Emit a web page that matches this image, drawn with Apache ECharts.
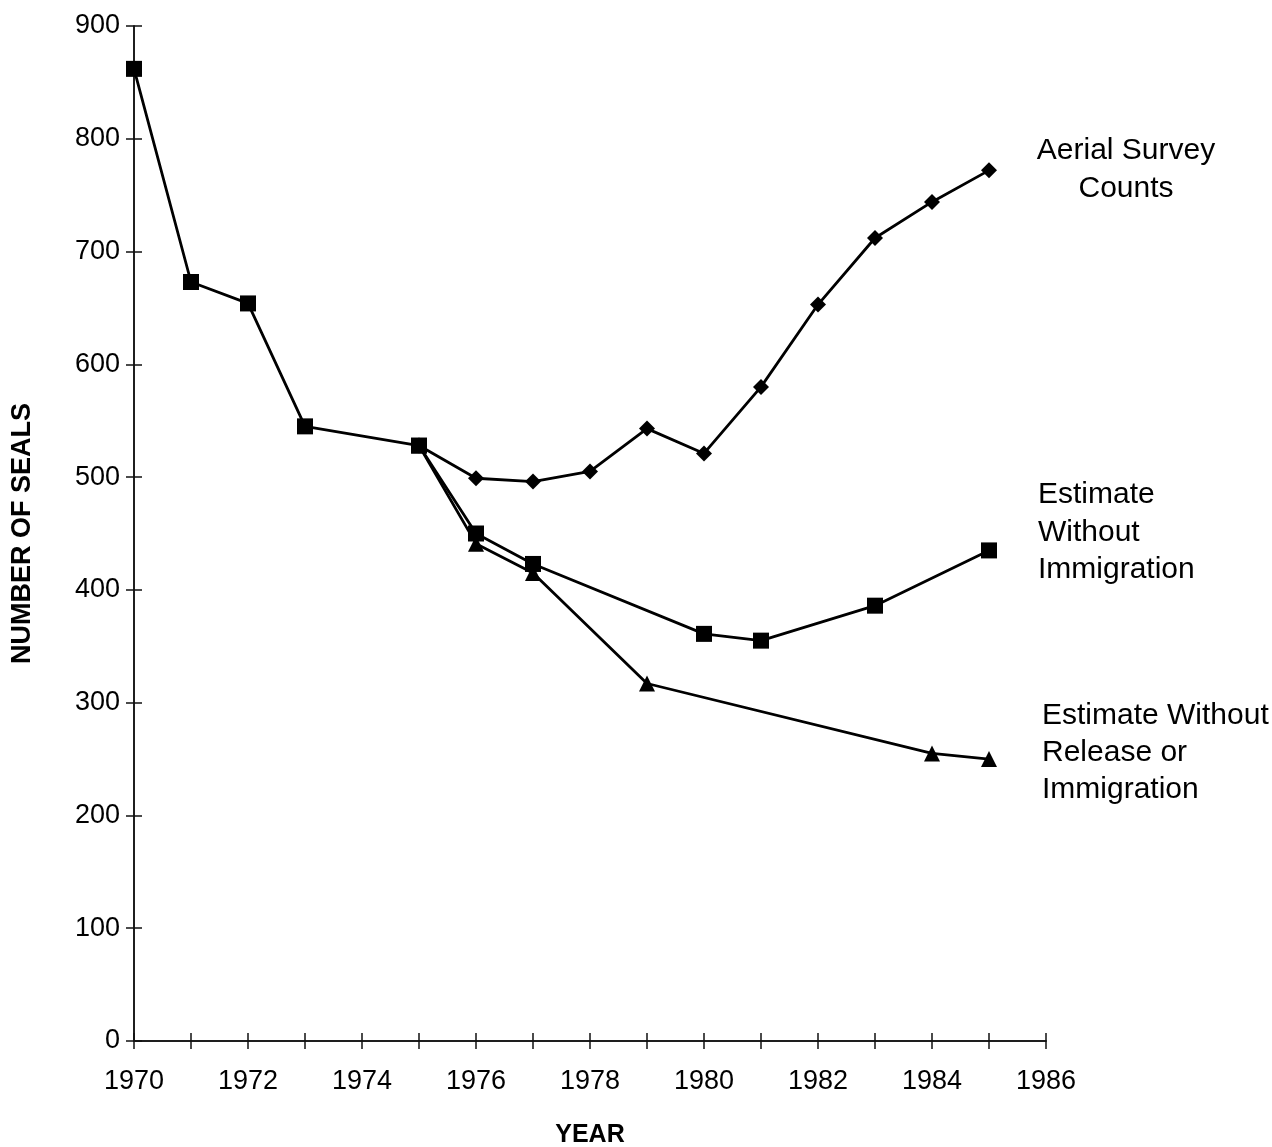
<!DOCTYPE html>
<html>
<head>
<meta charset="utf-8">
<script src="https://cdn.jsdelivr.net/npm/echarts@6/dist/echarts.min.js"></script>
<style>
html,body{margin:0;padding:0;background:#fff;}
#chart{width:1272px;height:1147px;}
</style>
</head>
<body>
<div id="chart"></div>
<script>
// Estimate Without Immigration (squares) – includes shared 1970–1975 values
const noImmYears = [1970, 1971, 1972, 1973, 1975, 1976, 1977, 1980, 1981, 1983, 1985];
const noImmValues = [862, 673, 654, 545, 528, 450, 423, 361, 355, 386, 435];

// Aerial Survey Counts (diamonds)
const aerialYears = [1975, 1976, 1977, 1978, 1979, 1980, 1981, 1982, 1983, 1984, 1985];
const aerialValues = [528, 499, 496, 505, 543, 521, 580, 653, 712, 744, 772];

// Estimate Without Release or Immigration (triangles)
const noRelYears = [1975, 1976, 1977, 1979, 1984, 1985];
const noRelValues = [528, 441, 415, 317, 255, 250];

const yTicks = [0, 100, 200, 300, 400, 500, 600, 700, 800, 900];
const xLabelYears = [1970, 1972, 1974, 1976, 1978, 1980, 1982, 1984, 1986];

const annotations = [
  'Aerial Survey\nCounts',
  'Estimate\nWithout\nImmigration',
  'Estimate Without\nRelease or\nImmigration'
];

const pairs = (xs, ys) => xs.map((x, i) => [x, ys[i]]);
const FONT = '"Liberation Sans", Arial, sans-serif';

const chart = echarts.init(document.getElementById('chart'));

const tickStyle = { color: '#111', width: 1.5 };
const baseX = {
  type: 'value', min: 1970, max: 1986, interval: 1, position: 'bottom',
  axisLine: { show: true, onZero: false, lineStyle: { color: '#111', width: 1.5 } },
  splitLine: { show: false }
};
const baseY = {
  type: 'value', min: 0, max: 900, interval: 100, position: 'left',
  axisLine: { show: true, onZero: false, lineStyle: { color: '#111', width: 1.5 } },
  splitLine: { show: false }
};

chart.setOption({
  backgroundColor: '#fff',
  animation: false,
  grid: { left: 134, right: 226, top: 26, bottom: 106, containLabel: false, outerBoundsMode: 'none' },
  xAxis: [
    Object.assign({}, baseX, {
      axisTick: { show: true, inside: false, length: 8, lineStyle: tickStyle },
      axisLabel: {
        margin: 27, fontSize: 27, color: '#000', fontFamily: FONT,
        formatter: v => (xLabelYears.indexOf(Math.round(v)) >= 0 ? String(Math.round(v)) : '')
      },
      name: 'YEAR', nameLocation: 'middle', nameGap: 82,
      nameTextStyle: { fontSize: 25, fontWeight: 'bold', color: '#000', fontFamily: FONT }
    }),
    Object.assign({}, baseX, {
      axisTick: { show: true, inside: true, length: 8, lineStyle: tickStyle },
      axisLabel: { show: false }
    })
  ],
  yAxis: [
    Object.assign({}, baseY, {
      axisTick: { show: true, inside: false, length: 8, lineStyle: tickStyle },
      axisLabel: { margin: 14, fontSize: 27, color: '#000', fontFamily: FONT,
        formatter: v => (yTicks.indexOf(v) >= 0 ? String(v) : '') },
      name: 'NUMBER OF SEALS', nameLocation: 'middle', nameGap: 98, nameRotate: 90,
      nameTextStyle: { fontSize: 27, fontWeight: 'bold', color: '#000', fontFamily: FONT }
    }),
    Object.assign({}, baseY, {
      axisTick: { show: true, inside: true, length: 8, lineStyle: tickStyle },
      axisLabel: { show: false }
    })
  ],
  series: [
    {
      name: 'Aerial Survey Counts', type: 'line', z: 2,
      data: pairs(aerialYears, aerialValues),
      symbol: 'diamond', symbolSize: 16,
      lineStyle: { color: '#000', width: 2.8 },
      itemStyle: { color: '#000' }
    },
    {
      name: 'Estimate Without Release or Immigration', type: 'line', z: 3,
      data: pairs(noRelYears, noRelValues),
      symbol: 'triangle', symbolSize: 16,
      lineStyle: { color: '#000', width: 2.8 },
      itemStyle: { color: '#000' }
    },
    {
      name: 'Estimate Without Immigration', type: 'line', z: 4,
      data: pairs(noImmYears, noImmValues),
      symbol: 'rect', symbolSize: 16,
      lineStyle: { color: '#000', width: 2.8 },
      itemStyle: { color: '#000' }
    }
  ],
  graphic: [
    { type: 'text', x: 1126, y: 132, z: 10,
      style: { text: annotations[0], fontSize: 30, fontFamily: FONT, fill: '#000',
               align: 'center', verticalAlign: 'top', lineHeight: 38 } },
    { type: 'text', x: 1038, y: 476, z: 10,
      style: { text: annotations[1], fontSize: 30, fontFamily: FONT, fill: '#000',
               align: 'left', verticalAlign: 'top', lineHeight: 37.5 } },
    { type: 'text', x: 1042, y: 697, z: 10,
      style: { text: annotations[2], fontSize: 30, fontFamily: FONT, fill: '#000',
               align: 'left', verticalAlign: 'top', lineHeight: 37 } }
  ]
});
</script>
</body>
</html>
